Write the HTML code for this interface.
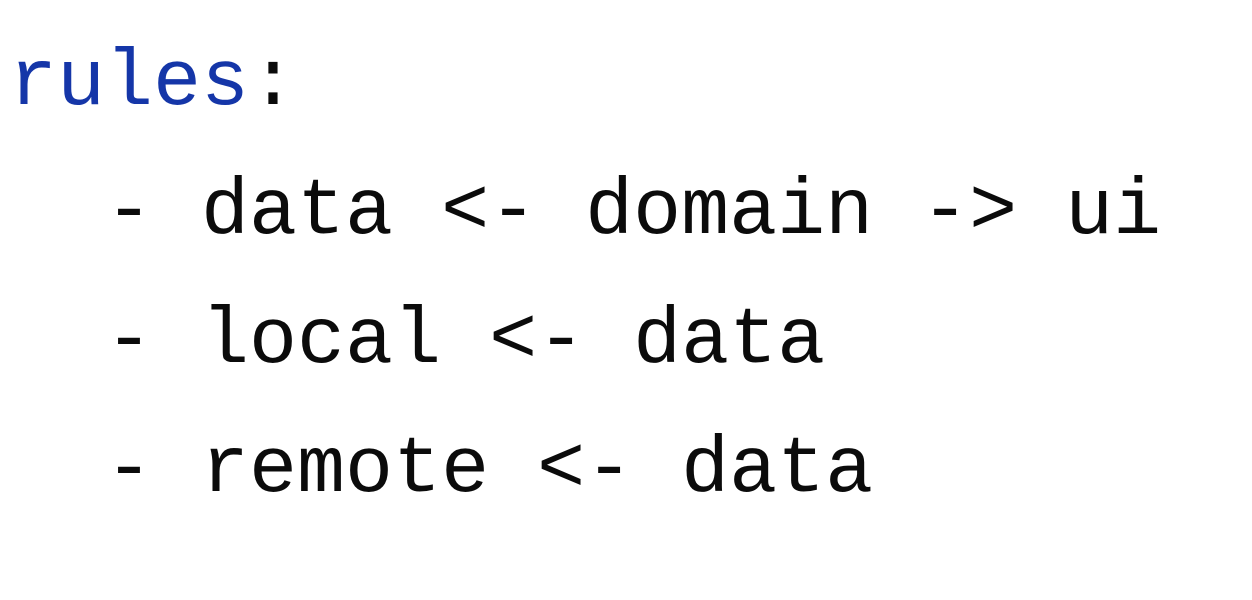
<!DOCTYPE html>
<html>
<head>
<meta charset="utf-8">
<style>
  html,body{margin:0;padding:0;background:#ffffff;}
  body{width:1252px;height:600px;overflow:hidden;position:relative;}
  pre{
    position:absolute;left:9px;top:19px;margin:0;
    font-family:"Liberation Mono","DejaVu Sans Mono",monospace;
    font-size:80px;line-height:129px;color:#0b0b0b;
    font-weight:bold;
  }
  .k{color:#1536a8;font-weight:normal;}
  .n{font-weight:normal;}
</style>
</head>
<body>
<pre><span class="k">rules</span><span class="n">:</span>
<span class="n">  - data &lt;- domain -&gt; ui</span>
<span class="n">  - local &lt;- data</span>
<span class="n">  - remote &lt;- data</span></pre>
</body>
</html>
